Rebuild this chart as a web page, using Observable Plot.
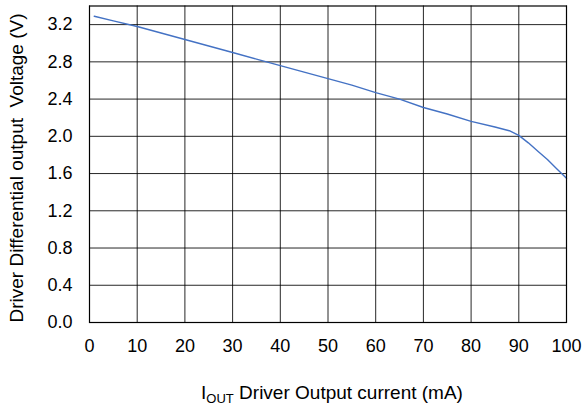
<!DOCTYPE html>
<html>
<head>
<meta charset="utf-8">
<script src="https://cdn.jsdelivr.net/npm/d3@7"></script>
<script src="https://cdn.jsdelivr.net/npm/@observablehq/plot@0.6"></script>
<style>
  html, body { margin: 0; padding: 0; background: #fff; }
  #chart { width: 585px; height: 408px; }
</style>
</head>
<body>
<div id="chart"></div>
<script>
// Data
const currentMA = [1, 5, 10, 15, 20, 25, 30, 35, 40, 45, 50, 55, 60, 65, 70, 75, 80, 85, 88, 90, 92, 94, 96, 98, 100];
const voltageV  = [3.29, 3.24, 3.18, 3.11, 3.04, 2.97, 2.90, 2.83, 2.76, 2.69, 2.62, 2.55, 2.47, 2.40, 2.31, 2.24, 2.16, 2.10, 2.06, 2.01, 1.93, 1.84, 1.75, 1.65, 1.55];
const xTicks = [0, 10, 20, 30, 40, 50, 60, 70, 80, 90, 100];
const yTicks = [0, 0.4, 0.8, 1.2, 1.6, 2.0, 2.4, 2.8, 3.2];
const xTitleMain = "I";
const xTitleSub = "OUT";
const xTitleRest = " Driver Output current (mA)";
const yTitle = "Driver Differential output  Voltage (V)";

const data = currentMA.map((x, i) => ({x, y: voltageV[i]}));

const FONT = "'Liberation Sans', Arial, sans-serif";
const svg = Plot.plot({
  width: 585,
  height: 408,
  marginLeft: 89,
  marginRight: 19,
  marginTop: 5.5,
  marginBottom: 86,
  style: {fontFamily: FONT, fontSize: "18px", background: "#fff", color: "#000", overflow: "visible"},
  x: {domain: [0, 100]},
  y: {domain: [0, 3.4]},
  marks: [
    Plot.gridX(xTicks, {stroke: "#000", strokeOpacity: 0.85, strokeWidth: 1}),
    Plot.gridY(yTicks, {stroke: "#000", strokeOpacity: 0.85, strokeWidth: 1}),
    Plot.axisX(xTicks, {tickSize: 0, tickPadding: 17, label: null}),
    Plot.axisY(yTicks, {tickSize: 0, tickPadding: 17, label: null, tickFormat: d => d.toFixed(1)}),
    Plot.line(data, {x: "x", y: "y", stroke: "#4472c4", strokeWidth: 1.4}),
    Plot.frame({stroke: "#000", strokeWidth: 1.2})
  ]
});

const s = d3.select(svg);
// x-axis title with subscript
const xt = s.append("text")
  .attr("x", 332)
  .attr("y", 399)
  .attr("text-anchor", "middle")
  .attr("font-family", FONT)
  .attr("font-size", 19)
  .attr("fill", "#000");
xt.append("tspan").text(xTitleMain);
xt.append("tspan").attr("font-size", 13).attr("dy", 4).text(xTitleSub);
xt.append("tspan").attr("dy", -4).text(xTitleRest);

// y-axis title
s.append("text")
  .attr("transform", "translate(23,168) rotate(-90)")
  .attr("text-anchor", "middle")
  .attr("font-family", FONT)
  .attr("font-size", 19)
  .attr("fill", "#000")
  .style("white-space", "pre")
  .text(yTitle);

document.getElementById("chart").appendChild(svg);
</script>
</body>
</html>
